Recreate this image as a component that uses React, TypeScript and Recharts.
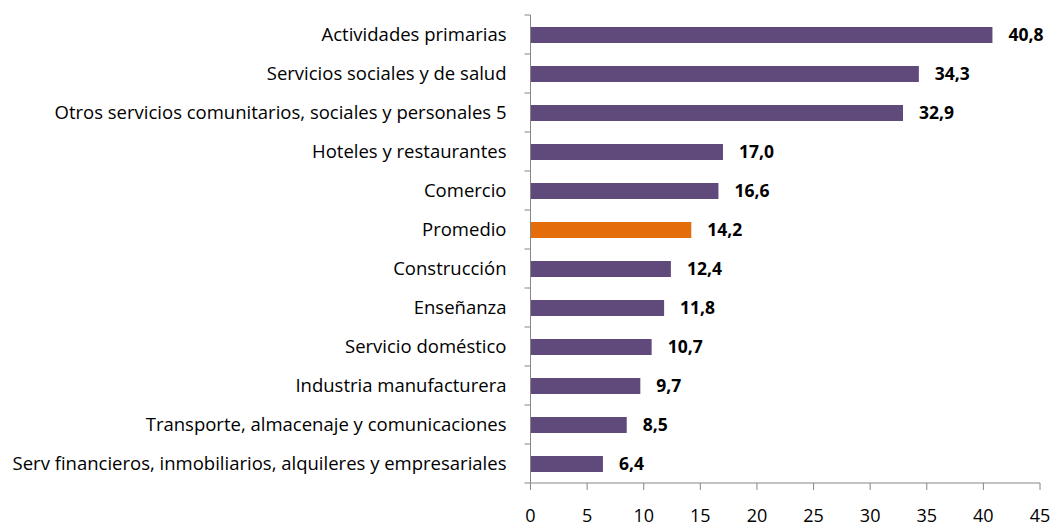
import { Bar, BarChart, Cell, LabelList, XAxis, YAxis } from "recharts"

const categories = [
  "Actividades primarias",
  "Servicios sociales y de salud",
  "Otros servicios comunitarios, sociales y personales 5",
  "Hoteles y restaurantes",
  "Comercio",
  "Promedio",
  "Construcción",
  "Enseñanza",
  "Servicio doméstico",
  "Industria manufacturera",
  "Transporte, almacenaje y comunicaciones",
  "Serv financieros, inmobiliarios, alquileres y empresariales",
]

const values = [40.8, 34.3, 32.9, 17.0, 16.6, 14.2, 12.4, 11.8, 10.7, 9.7, 8.5, 6.4]

const xTicks = [0, 5, 10, 15, 20, 25, 30, 35, 40, 45]

const highlight = "Promedio"

const data = categories.map((name, i) => ({ name, value: values[i] }))

const PURPLE = "#604A7B"
const ORANGE = "#E46C0A"
const AXIS = "#868686"
const TICK_SIZE = 6
const TICK_MARGIN = 18

function CategoryTick(props: any) {
  const { x, y, payload, index, visibleTicksCount } = props
  const axisX = x + TICK_SIZE + TICK_MARGIN
  const half = payload.offset ?? 0
  return (
    <g>
      <line x1={axisX - TICK_SIZE} x2={axisX} y1={y - half} y2={y - half} stroke={AXIS} />
      {index === visibleTicksCount - 1 && (
        <line x1={axisX - TICK_SIZE} x2={axisX} y1={y + half} y2={y + half} stroke={AXIS} />
      )}
      <text x={x} y={y} dy="0.35em" textAnchor="end" fill="#000" fontSize={18.5}>
        {payload.value}
      </text>
    </g>
  )
}

export default function App() {
  return (
    <div style={{ position: "absolute", left: 0, top: 0, fontFamily: "'Open Sans', sans-serif" }}>
      <BarChart
        width={1051}
        height={528}
        data={data}
        layout="vertical"
        margin={{ top: 15, right: 11, left: 0, bottom: 0 }}
      >
        <XAxis
          type="number"
          domain={[0, 45]}
          ticks={xTicks}
          interval={0}
          stroke={AXIS}
          tickSize={7}
          tickMargin={19}
          height={45}
          tick={{ fill: "#000", fontSize: 18 }}
        />
        <YAxis
          type="category"
          dataKey="name"
          width={530.5}
          stroke={AXIS}
          tickLine={false}
          tickSize={TICK_SIZE}
          tickMargin={TICK_MARGIN}
          interval={0}
          tick={<CategoryTick />}
        />
        <Bar dataKey="value" barSize={16} isAnimationActive={false}>
          {data.map((d) => (
            <Cell key={d.name} fill={d.name === highlight ? ORANGE : PURPLE} />
          ))}
          <LabelList
            dataKey="value"
            position="right"
            offset={16}
            formatter={(v: any) => Number(v).toFixed(1).replace(".", ",")}
            style={{ fontWeight: "bold", fontSize: 17.5, fill: "#000" }}
          />
        </Bar>
      </BarChart>
    </div>
  )
}
